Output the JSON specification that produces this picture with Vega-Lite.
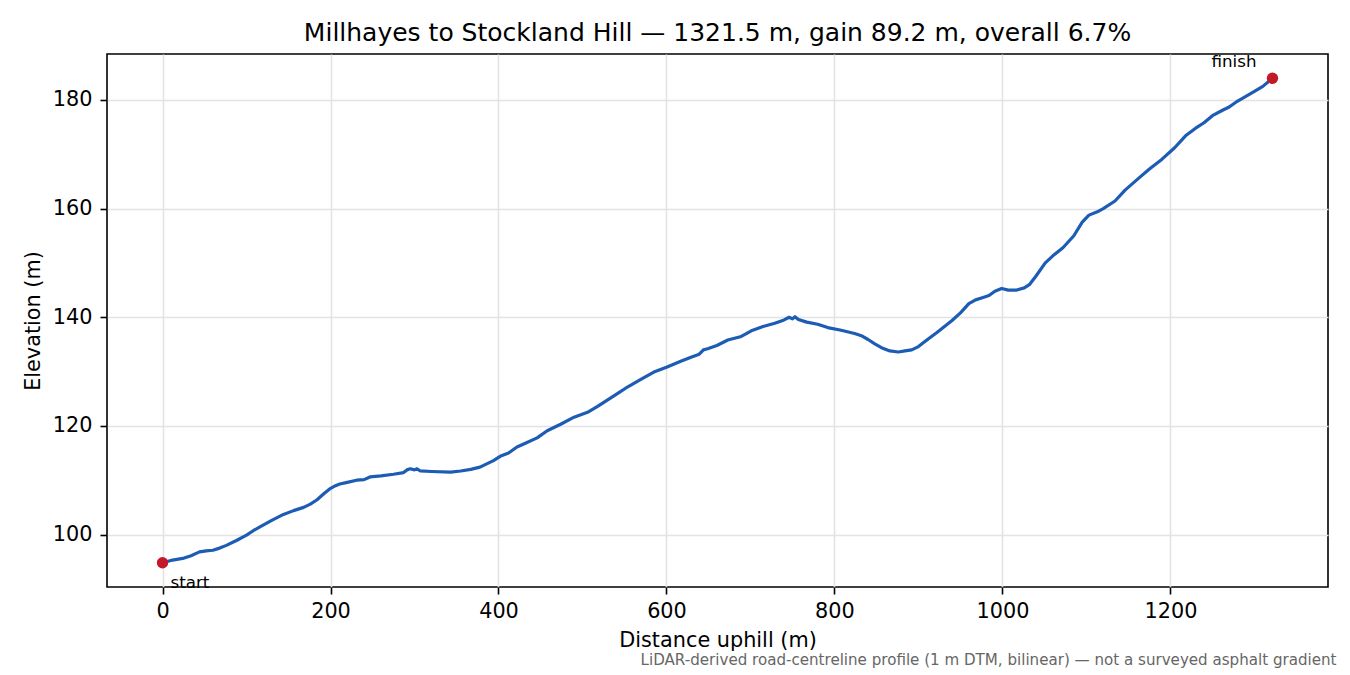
{
  "$schema": "https://vega.github.io/schema/vega-lite/v6.json",
  "width": 1221,
  "height": 533,
  "autosize": {"type": "none"},
  "padding": {"left": 107, "top": 54, "right": 22, "bottom": 88},
  "background": "white",
  "title": {
    "text": "Millhayes to Stockland Hill — 1321.5 m, gain 89.2 m, overall 6.7%",
    "font": "DejaVu Sans",
    "fontSize": 25,
    "fontWeight": "normal",
    "color": "#000000",
    "anchor": "middle",
    "frame": "group",
    "baseline": "alphabetic",
    "offset": -12
  },
  "config": {
    "font": "DejaVu Sans",
    "view": {"stroke": "#000000", "strokeWidth": 1.6},
    "axis": {
      "labelFont": "DejaVu Sans",
      "labelFontSize": 20.8,
      "labelColor": "#000000",
      "titleFont": "DejaVu Sans",
      "titleFontSize": 20.8,
      "titleFontWeight": "normal",
      "titleColor": "#000000",
      "tickColor": "#000000",
      "tickWidth": 1.6,
      "tickSize": 7,
      "domain": false,
      "gridColor": "#e3e3e3",
      "gridWidth": 1.6
    }
  },
  "datasets": {
    "profile": [
      {"d": 0, "e": 94.8}, {"d": 12, "e": 95.3}, {"d": 24, "e": 95.6}, {"d": 34, "e": 96.1},
      {"d": 44, "e": 96.8}, {"d": 52, "e": 97.0}, {"d": 60, "e": 97.1}, {"d": 68, "e": 97.5},
      {"d": 76, "e": 98.0}, {"d": 88, "e": 98.9}, {"d": 100, "e": 99.9}, {"d": 108, "e": 100.7},
      {"d": 116, "e": 101.4}, {"d": 130, "e": 102.6}, {"d": 144, "e": 103.7}, {"d": 156, "e": 104.4},
      {"d": 168, "e": 105.0}, {"d": 176, "e": 105.6}, {"d": 184, "e": 106.4}, {"d": 192, "e": 107.5},
      {"d": 199, "e": 108.4}, {"d": 206, "e": 109.0}, {"d": 211, "e": 109.3}, {"d": 220, "e": 109.6},
      {"d": 231, "e": 110.0}, {"d": 240, "e": 110.1}, {"d": 247, "e": 110.6}, {"d": 260, "e": 110.8},
      {"d": 275, "e": 111.1}, {"d": 287, "e": 111.4}, {"d": 291, "e": 111.9}, {"d": 295, "e": 112.1},
      {"d": 300, "e": 111.9}, {"d": 303, "e": 112.1}, {"d": 307, "e": 111.7}, {"d": 320, "e": 111.6},
      {"d": 343, "e": 111.5}, {"d": 355, "e": 111.7}, {"d": 367, "e": 112.0}, {"d": 378, "e": 112.4},
      {"d": 386, "e": 113.0}, {"d": 394, "e": 113.6}, {"d": 402, "e": 114.4}, {"d": 412, "e": 115.0},
      {"d": 422, "e": 116.1}, {"d": 432, "e": 116.8}, {"d": 446, "e": 117.8}, {"d": 458, "e": 119.1},
      {"d": 474, "e": 120.3}, {"d": 490, "e": 121.6}, {"d": 506, "e": 122.5}, {"d": 518, "e": 123.6},
      {"d": 530, "e": 124.8}, {"d": 542, "e": 126.0}, {"d": 554, "e": 127.2}, {"d": 570, "e": 128.6},
      {"d": 585, "e": 129.9}, {"d": 600, "e": 130.8}, {"d": 617, "e": 131.9}, {"d": 630, "e": 132.7},
      {"d": 639, "e": 133.2}, {"d": 644, "e": 134.0}, {"d": 649, "e": 134.2}, {"d": 660, "e": 134.8},
      {"d": 673, "e": 135.8}, {"d": 688, "e": 136.4}, {"d": 701, "e": 137.5}, {"d": 715, "e": 138.3},
      {"d": 729, "e": 138.9}, {"d": 740, "e": 139.5}, {"d": 746, "e": 140.0}, {"d": 750, "e": 139.7},
      {"d": 753, "e": 140.1}, {"d": 757, "e": 139.6}, {"d": 767, "e": 139.1}, {"d": 780, "e": 138.7},
      {"d": 792, "e": 138.1}, {"d": 808, "e": 137.6}, {"d": 824, "e": 137.0}, {"d": 832, "e": 136.6},
      {"d": 840, "e": 135.9}, {"d": 848, "e": 135.1}, {"d": 856, "e": 134.4}, {"d": 866, "e": 133.8},
      {"d": 876, "e": 133.6}, {"d": 884, "e": 133.8}, {"d": 892, "e": 134.0}, {"d": 900, "e": 134.6},
      {"d": 910, "e": 135.8}, {"d": 922, "e": 137.2}, {"d": 940, "e": 139.4}, {"d": 950, "e": 140.8},
      {"d": 960, "e": 142.5}, {"d": 968, "e": 143.2}, {"d": 976, "e": 143.6}, {"d": 984, "e": 144.0},
      {"d": 991, "e": 144.8}, {"d": 999, "e": 145.3}, {"d": 1007, "e": 145.0}, {"d": 1017, "e": 145.0},
      {"d": 1026, "e": 145.4}, {"d": 1032, "e": 146.0}, {"d": 1040, "e": 147.6}, {"d": 1051, "e": 150.0},
      {"d": 1060, "e": 151.3}, {"d": 1072, "e": 152.8}, {"d": 1085, "e": 155.0}, {"d": 1095, "e": 157.5},
      {"d": 1103, "e": 158.8}, {"d": 1113, "e": 159.4}, {"d": 1120, "e": 160.0}, {"d": 1134, "e": 161.4},
      {"d": 1146, "e": 163.4}, {"d": 1163, "e": 165.7}, {"d": 1175, "e": 167.3}, {"d": 1190, "e": 169.1},
      {"d": 1205, "e": 171.2}, {"d": 1218, "e": 173.4}, {"d": 1230, "e": 174.8}, {"d": 1240, "e": 175.8},
      {"d": 1250, "e": 177.1}, {"d": 1262, "e": 178.1}, {"d": 1270, "e": 178.7}, {"d": 1280, "e": 179.8},
      {"d": 1298, "e": 181.4}, {"d": 1310, "e": 182.5}, {"d": 1321.5, "e": 184.0}
    ],
    "ends": [
      {"d": 0, "e": 94.8, "label": "start"},
      {"d": 1321.5, "e": 184.0, "label": "finish"}
    ]
  },
  "resolve": {"axis": {"x": "independent", "y": "shared"}},
  "layer": [
    {
      "data": {"name": "profile"},
      "mark": {"type": "line", "color": "#1c5cb4", "strokeWidth": 3.2, "strokeJoin": "round", "strokeCap": "round"},
      "encoding": {
        "x": {
          "field": "d",
          "type": "quantitative",
          "scale": {"domain": [-66.1, 1387.6], "nice": false, "zero": false},
          "axis": {
            "title": "Distance uphill (m)",
            "values": [0, 200, 400, 600, 800, 1000, 1200],
            "format": "d",
            "labelPadding": 7,
            "titlePadding": 10,
            "grid": true,
            "orient": "bottom"
          }
        },
        "y": {
          "field": "e",
          "type": "quantitative",
          "scale": {"domain": [90.34, 188.46], "nice": false, "zero": false},
          "axis": {
            "title": "Elevation (m)",
            "values": [100, 120, 140, 160, 180],
            "format": "d",
            "labelPadding": 8,
            "titlePadding": 9,
            "grid": true
          }
        }
      }
    },
    {
      "data": {"name": "ends"},
      "mark": {"type": "point", "filled": true, "color": "#c21a28", "opacity": 1, "size": 130},
      "encoding": {
        "x": {
          "field": "d",
          "type": "quantitative",
          "axis": {
            "orient": "bottom",
            "title": "LiDAR-derived road-centreline profile (1 m DTM, bilinear) — not a surveyed asphalt gradient",
            "labels": false,
            "ticks": false,
            "grid": false,
            "domain": false,
            "titleFontSize": 15.1,
            "titleColor": "#666666",
            "titleAnchor": "end",
            "titleAlign": "right",
            "titleBaseline": "alphabetic",
            "titlePadding": 77,
            "titleX": 1229
          }
        },
        "y": {"field": "e", "type": "quantitative"}
      }
    },
    {
      "data": {"name": "ends"},
      "transform": [{"filter": "datum.label == 'start'"}],
      "mark": {"type": "text", "align": "left", "baseline": "alphabetic", "dx": 8, "dy": 25, "fontSize": 16.7, "color": "#000000"},
      "encoding": {
        "x": {"field": "d", "type": "quantitative", "axis": null},
        "y": {"field": "e", "type": "quantitative"},
        "text": {"field": "label"}
      }
    },
    {
      "data": {"name": "ends"},
      "transform": [{"filter": "datum.label == 'finish'"}],
      "mark": {"type": "text", "align": "right", "baseline": "alphabetic", "dx": -16, "dy": -11, "fontSize": 16.7, "color": "#000000"},
      "encoding": {
        "x": {"field": "d", "type": "quantitative", "axis": null},
        "y": {"field": "e", "type": "quantitative"},
        "text": {"field": "label"}
      }
    }
  ]
}
